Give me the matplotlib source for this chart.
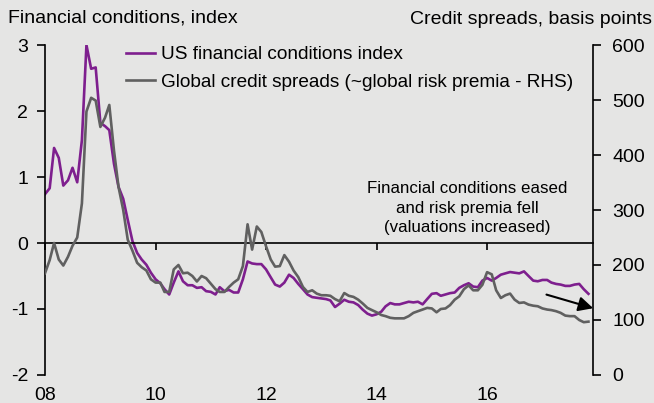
import numpy as np
import pandas as pd
import matplotlib
matplotlib.use("Agg")
import matplotlib.pyplot as plt
import matplotlib.dates as mdates

# monthly data, Jan 2008 - Nov 2017
months = pd.date_range("2008-01-01", periods=119, freq="MS")

us_fci = [
    0.74, 0.83, 1.44, 1.29, 0.87, 0.95, 1.14, 0.92, 1.56, 3.00,
    2.64, 2.66, 1.82, 1.77, 1.71, 1.20, 0.85, 0.67, 0.35, 0.03,
    -0.15, -0.25, -0.33, -0.45, -0.55, -0.61, -0.70, -0.78, -0.60, -0.43,
    -0.58, -0.64, -0.64, -0.68, -0.67, -0.73, -0.74, -0.78, -0.67, -0.73,
    -0.71, -0.75, -0.75, -0.55, -0.28, -0.31, -0.32, -0.32, -0.40, -0.52,
    -0.63, -0.66, -0.60, -0.48, -0.53, -0.62, -0.70, -0.78, -0.82, -0.83,
    -0.84, -0.85, -0.87, -0.97, -0.92, -0.86, -0.89, -0.90, -0.94, -1.01,
    -1.07, -1.10, -1.08, -1.04, -0.96, -0.91, -0.93, -0.93, -0.91, -0.89,
    -0.90, -0.89, -0.93, -0.85, -0.77, -0.76, -0.80, -0.78, -0.76, -0.75,
    -0.68, -0.64, -0.61, -0.66, -0.67, -0.57, -0.53, -0.57, -0.53, -0.48,
    -0.46, -0.44, -0.45, -0.46, -0.43, -0.50, -0.57, -0.58, -0.56, -0.56,
    -0.60, -0.62, -0.63, -0.65, -0.65, -0.63, -0.62, -0.70, -0.77,
]

credit_spreads = [
    185, 209, 240, 210, 199, 215, 235, 250, 312, 479,
    504, 499, 451, 468, 491, 408, 342, 300, 246, 226,
    204, 196, 190, 174, 168, 168, 151, 151, 192, 200,
    185, 186, 180, 170, 180, 176, 166, 156, 151, 151,
    160, 168, 174, 198, 274, 228, 270, 260, 234, 210,
    197, 198, 218, 206, 190, 178, 160, 151, 154, 148,
    145, 145, 144, 138, 134, 149, 144, 142, 137, 130,
    122, 118, 114, 109, 107, 104, 103, 103, 103, 107,
    113, 116, 119, 122, 121, 114, 120, 121, 127, 137,
    143, 156, 163, 154, 154, 164, 187, 183, 154, 140,
    145, 148, 137, 131, 132, 128, 126, 125, 121, 119,
    118, 116, 113, 108, 107, 107, 100, 96, 97,
]

left_ticks = [-2, -1, 0, 1, 2, 3]
right_ticks = [0, 100, 200, 300, 400, 500, 600]

BG = "#e5e5e4"
PURPLE = "#7e1f8e"
GREY = "#606060"

plt.rcParams["font.family"] = ["Liberation Sans", "DejaVu Sans"]
plt.rcParams["axes.unicode_minus"] = False

fig = plt.figure(figsize=(6.54, 4.03), dpi=100, facecolor=BG)
ax = fig.add_axes([0.0688, 0.0695, 0.8379, 0.8188])
ax.set_facecolor(BG)
ax2 = ax.twinx()

l1, = ax.plot(months, us_fci, color=PURPLE, lw=1.9, label="US financial conditions index")
l2, = ax2.plot(months, credit_spreads, color=GREY, lw=1.9,
               label="Global credit spreads (~global risk premia - RHS)")

ax.set_xlim(pd.Timestamp("2008-01-01"), pd.Timestamp("2017-12-01"))
ax.set_ylim(-2, 3)
ax2.set_ylim(0, 600)
ax.set_yticks(left_ticks)
ax2.set_yticks(right_ticks)

for a in (ax, ax2):
    a.spines["top"].set_visible(False)
ax.spines["right"].set_visible(False)
ax2.spines["left"].set_visible(False)
ax2.spines["bottom"].set_visible(False)
ax.spines["bottom"].set_position(("data", 0))
ax.spines["left"].set_linewidth(1.2)
ax2.spines["right"].set_linewidth(1.2)
ax.spines["bottom"].set_linewidth(1.2)

ax.xaxis.set_major_locator(mdates.YearLocator(2))
ax.tick_params(axis="x", direction="out", length=5, width=1.2, labelbottom=False)
ax.tick_params(axis="y", direction="out", length=6, width=1.2, labelsize=14, pad=6)
ax2.tick_params(axis="y", direction="out", length=6, width=1.2, labelsize=14, pad=8)

sec = ax.secondary_xaxis("bottom")
sec.spines["bottom"].set_visible(False)
sec.xaxis.set_major_locator(mdates.YearLocator(2))
sec.xaxis.set_major_formatter(mdates.DateFormatter("%y"))
sec.tick_params(axis="x", length=0, labelsize=14, pad=9)

fig.text(0.012, 0.955, "Financial conditions, index", fontsize=14, va="center", ha="left")
fig.text(0.997, 0.952, "Credit spreads, basis points", fontsize=14, va="center", ha="right")

ax2.legend(handles=[l1, l2], loc="upper left", bbox_to_anchor=(0.148, 0.997),
           frameon=False, fontsize=13.7, handlelength=1.5, handletextpad=0.35,
           labelspacing=0.55, borderpad=0, borderaxespad=0)

ax2.text(0.77, 0.505, "Financial conditions eased\nand risk premia fell\n(valuations increased)",
         transform=ax2.transAxes, ha="center", va="center", fontsize=12.2, linespacing=1.38)

ax.annotate("", xy=(pd.Timestamp("2017-12-20"), -1.0), xytext=(pd.Timestamp("2017-01-10"), -0.77),
            arrowprops=dict(arrowstyle="-|>", color="black", lw=1.5, mutation_scale=22),
            annotation_clip=False, zorder=5)

fig.savefig("out.png", dpi=100, facecolor=BG)
